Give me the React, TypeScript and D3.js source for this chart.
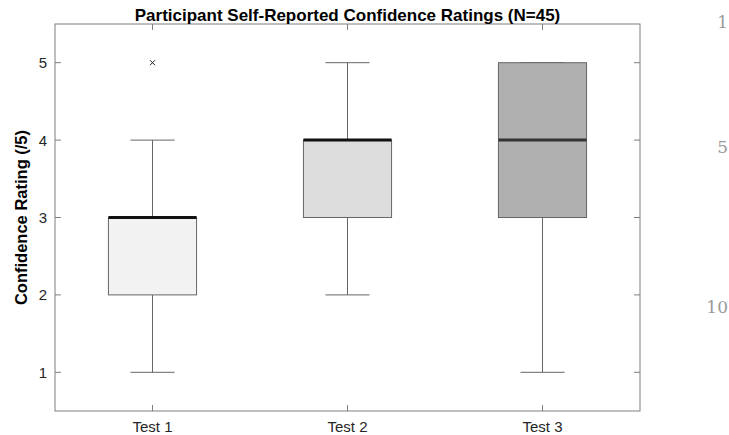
import React from "react";
import * as d3 from "d3";

const categories = ["Test 1", "Test 2", "Test 3"];
const whiskerLow = [1, 2, 1];
const q1 = [2, 3, 3];
const medians = [3, 4, 4];
const q3 = [3, 4, 5];
const whiskerHigh = [4, 5, 5];
const outliers = [[5], [], []];
const fills = ["#f2f2f2", "#dcdcdc", "#b0b0b0"];
const medianColors = ["#111111", "#111111", "#333333"];
const yTicks = [1, 2, 3, 4, 5];
const lineNumbers = [1, 5, 10];

const W = 729;
const H = 435;
const left = 55, right = 640, top = 24, bottom = 411;

export default function App() {
  const x = d3.scaleLinear().domain([0.5, 3.5]).range([left, right]);
  const y = d3.scaleLinear().domain([0.5, 5.5]).range([bottom, top]);
  const boxHalf = x(0.5 + 0.226) - x(0.5);
  const capHalf = x(0.5 + 0.113) - x(0.5);
  const axisColor = "#7f7f7f";
  const tickLen = 6;
  const font = "Liberation Sans, Arial, sans-serif";

  return (
    <svg
      width={W}
      height={H}
      style={{ position: "absolute", left: 0, top: 0, background: "#fff" }}
    >
      <rect x={0} y={0} width={W} height={H} fill="#fff" />
      {/* boxes */}
      {categories.map((c, i) => {
        const cx = x(i + 1);
        return (
          <g key={c}>
            <line x1={cx} x2={cx} y1={y(whiskerHigh[i])} y2={y(q3[i])} stroke="#666" strokeWidth={1} />
            <line x1={cx} x2={cx} y1={y(q1[i])} y2={y(whiskerLow[i])} stroke="#666" strokeWidth={1} />
            <line x1={cx - capHalf} x2={cx + capHalf} y1={y(whiskerHigh[i])} y2={y(whiskerHigh[i])} stroke="#666" strokeWidth={1} />
            <line x1={cx - capHalf} x2={cx + capHalf} y1={y(whiskerLow[i])} y2={y(whiskerLow[i])} stroke="#666" strokeWidth={1} />
            <rect
              x={cx - boxHalf}
              y={y(q3[i])}
              width={boxHalf * 2}
              height={y(q1[i]) - y(q3[i])}
              fill={fills[i]}
              stroke="#666"
              strokeWidth={1}
            />
            <line
              x1={cx - boxHalf}
              x2={cx + boxHalf}
              y1={y(medians[i])}
              y2={y(medians[i])}
              stroke={medianColors[i]}
              strokeWidth={3}
            />
            {outliers[i].map((o, j) => (
              <g key={j} stroke="#222" strokeWidth={1}>
                <line x1={cx - 2.5} x2={cx + 2.5} y1={y(o) - 2.5} y2={y(o) + 2.5} />
                <line x1={cx - 2.5} x2={cx + 2.5} y1={y(o) + 2.5} y2={y(o) - 2.5} />
              </g>
            ))}
          </g>
        );
      })}
      {/* frame */}
      <rect x={left} y={top} width={right - left} height={bottom - top} fill="none" stroke={axisColor} strokeWidth={1} />
      {/* y ticks */}
      {yTicks.map((t) => (
        <g key={t}>
          <line x1={left} x2={left + tickLen} y1={y(t)} y2={y(t)} stroke={axisColor} />
          <line x1={right} x2={right - tickLen} y1={y(t)} y2={y(t)} stroke={axisColor} />
          <text x={left - 8} y={y(t)} dy="0.36em" textAnchor="end" fontFamily={font} fontSize={15} fill="#262626">
            {t}
          </text>
        </g>
      ))}
      {/* x ticks */}
      {categories.map((c, i) => (
        <g key={c}>
          <line x1={x(i + 1)} x2={x(i + 1)} y1={bottom} y2={bottom - tickLen} stroke={axisColor} />
          <line x1={x(i + 1)} x2={x(i + 1)} y1={top} y2={top + tickLen} stroke={axisColor} />
          <text x={x(i + 1)} y={bottom + 21} textAnchor="middle" fontFamily={font} fontSize={15} fill="#262626">
            {c}
          </text>
        </g>
      ))}
      <text
        x={(left + right) / 2}
        y={20.5}
        textAnchor="middle"
        fontFamily={font}
        fontSize={17}
        fontWeight="bold"
        fill="#000"
      >
        Participant Self-Reported Confidence Ratings (N=45)
      </text>
      <text
        transform={`translate(27,${(top + bottom) / 2}) rotate(-90)`}
        textAnchor="middle"
        fontFamily={font}
        fontSize={16.5}
        fontWeight="bold"
        fill="#000"
      >
        Confidence Rating (/5)
      </text>
      {/* document line numbers */}
      {lineNumbers.map((n, i) => (
        <text
          key={n}
          x={728}
          y={[28, 153, 313][i]}
          textAnchor="end"
          fontFamily="DejaVu Serif, serif"
          fontSize={17}
          fill="#9a9a9a"
        >
          {n}
        </text>
      ))}
    </svg>
  );
}
